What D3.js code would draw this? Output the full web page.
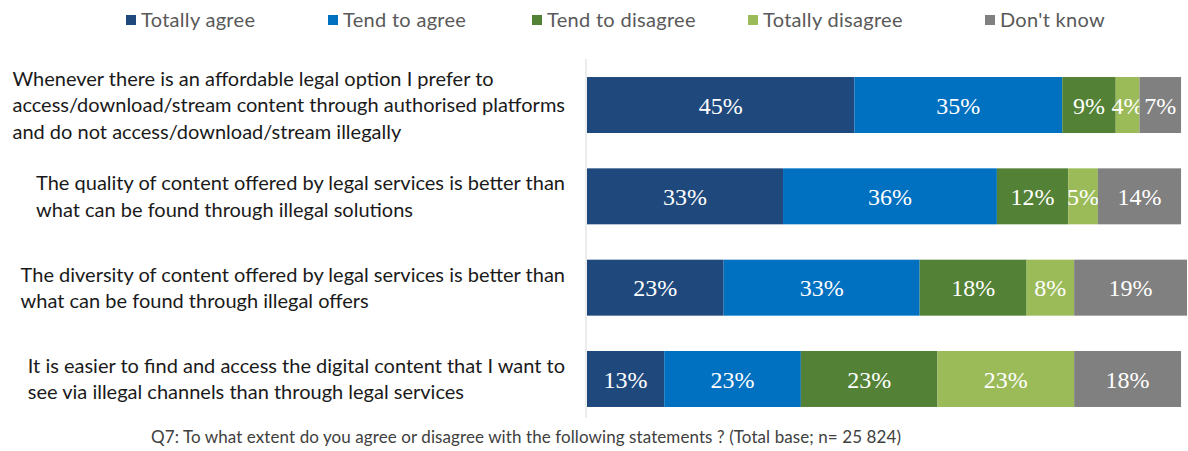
<!DOCTYPE html>
<html>
<head>
<meta charset="utf-8">
<script src="https://cdn.jsdelivr.net/npm/d3@7"></script>
<style>
  html, body { margin: 0; padding: 0; background: #ffffff; }
  svg { display: block; }
</style>
</head>
<body>
<svg id="chart" width="1188" height="451"></svg>
<script>
// Statements (each line of a label is kept as written on the chart)
const statements = [
  ["Whenever there is an affordable legal option I prefer to",
   "access/download/stream content through authorised platforms",
   "and do not access/download/stream illegally"],
  ["The quality of content offered by legal services is better than",
   "what can be found through illegal solutions"],
  ["The diversity of content offered by legal services is better than",
   "what can be found through illegal offers"],
  ["It is easier to find and access the digital content that I want to",
   "see via illegal channels than through legal services"]
];

const answers = ["Totally agree", "Tend to agree", "Tend to disagree", "Totally disagree", "Don't know"];

// Share of respondents (%) per answer, one array per statement
const totallyAgree    = [45, 33, 23, 13];
const tendToAgree     = [35, 36, 33, 23];
const tendToDisagree  = [9, 12, 18, 23];
const totallyDisagree = [4, 5, 8, 23];
const dontKnow        = [7, 14, 19, 18];

const footnote = "Q7: To what extent do you agree or disagree with the following statements ? (Total base; n= 25 824)";

const palette = ["#1f497d", "#0070c0", "#538135", "#9bbb59", "#808080"];

const svg = d3.select("#chart");
const plotLeft = 587, plotRight = 1187;

const rows = statements.map((s, i) => ({
  key: "s" + i,
  lines: s,
  values: [totallyAgree[i], tendToAgree[i], tendToDisagree[i], totallyDisagree[i], dontKnow[i]]
}));

const maxTotal = d3.max(rows, r => d3.sum(r.values));
const x = d3.scaleLinear().domain([0, maxTotal]).range([plotLeft, plotRight]);
const y = d3.scaleBand().domain(rows.map(r => r.key))
  .range([59.4, 424.6]).paddingInner(0.387).paddingOuter(0.193);
const color = d3.scaleOrdinal().domain(answers).range(palette);

// Stack the answers within each statement
const stack = d3.stack().keys(d3.range(answers.length)).value((r, k) => r.values[k]);
const series = stack(rows);

// Vertical category axis line
svg.append("g")
  .attr("transform", `translate(${plotLeft - 1},0)`)
  .call(d3.axisLeft(y).tickSize(0).tickFormat(""))
  .call(g => g.select(".domain").attr("stroke", "#d9d9d9").attr("d", "M0,59V418"));

const layers = svg.append("g").selectAll("g").data(series).join("g")
  .attr("fill", d => color(answers[d.key]));

layers.selectAll("rect").data(d => d).join("rect")
  .attr("x", d => x(d[0]))
  .attr("y", d => y(d.data.key))
  .attr("width", d => x(d[1]) - x(d[0]))
  .attr("height", y.bandwidth());

layers.selectAll("text").data(d => d.map(v => ({v, k: d.key}))).join("text")
  .attr("x", d => (x(d.v[0]) + x(d.v[1])) / 2)
  .attr("y", d => y(d.v.data.key) + y.bandwidth() / 2)
  .attr("dy", "0.36em")
  .attr("text-anchor", "middle")
  .attr("fill", "#ffffff")
  .attr("font-family", "'Liberation Serif', 'DejaVu Serif', serif")
  .attr("font-size", 24)
  .text(d => (d.v[1] - d.v[0]) + "%");

// Statement labels: lines left-aligned, block ending just left of the bars
const labelRight = 565, lineH = 26.5;
const labels = svg.append("g").selectAll("g").data(rows).join("g");
labels.each(function(r) {
  const g = d3.select(this);
  const cy = y(r.key) + y.bandwidth() / 2;
  const top = cy - (r.lines.length - 1) * lineH / 2;
  const texts = g.selectAll("text").data(r.lines).join("text")
    .attr("y", (d, i) => top + i * lineH)
    .attr("dy", "0.36em")
    .attr("fill", "#1a1a1a")
    .attr("font-family", "Lato, 'Open Sans', sans-serif")
    .attr("font-size", 20)
    .text(d => d);
  const w = d3.max(texts.nodes(), n => n.getComputedTextLength());
  texts.attr("x", labelRight - w);
});

// Legend
const legendX = [126, 328, 532, 748, 985];
const legend = svg.append("g").selectAll("g").data(answers).join("g")
  .attr("transform", (d, i) => `translate(${legendX[i]},20)`);
legend.append("rect")
  .attr("x", 0).attr("y", -5).attr("width", 10).attr("height", 10)
  .attr("fill", d => color(d));
legend.append("text")
  .attr("x", 15).attr("dy", "0.36em")
  .attr("fill", "#595959")
  .attr("font-family", "Lato, 'Open Sans', sans-serif")
  .attr("font-size", 20)
  .attr("letter-spacing", 0.3)
  .text(d => d);

// Question footnote
svg.append("text")
  .attr("x", 151).attr("y", 437).attr("dy", "0.36em")
  .attr("fill", "#404040")
  .attr("font-family", "Lato, 'Open Sans', sans-serif")
  .attr("font-size", 17)
  .attr("textLength", 750)
  .attr("lengthAdjust", "spacing")
  .text(footnote);
</script>
</body>
</html>
